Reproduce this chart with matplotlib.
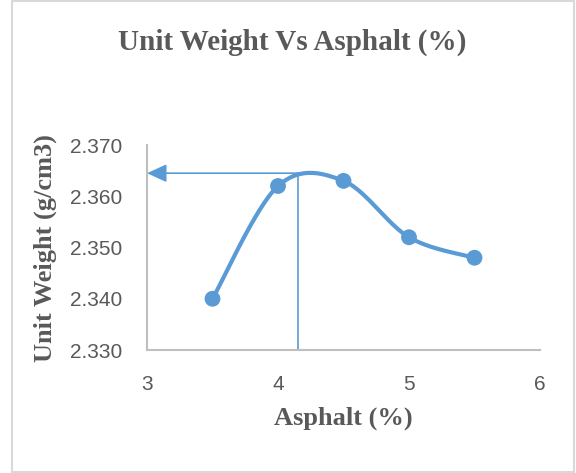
import numpy as np
import matplotlib
matplotlib.use("Agg")
import matplotlib.pyplot as plt
from matplotlib.patches import Rectangle

asphalt = [3.5, 4.0, 4.5, 5.0, 5.5]
unit_weight = [2.340, 2.362, 2.363, 2.352, 2.348]
optimum_asphalt = 4.15
optimum_weight = 2.3645
x_ticks = [3, 4, 5, 6]
y_ticks = [2.330, 2.340, 2.350, 2.360, 2.370]

blue = "#5b9bd5"
grey_text = "#595959"


def smooth_curve(xs, ys, n=40):
    """Spreadsheet-style smoothed line: cubic Bezier segments with
    Catmull-Rom control points."""
    xs = np.asarray(xs, float)
    ys = np.asarray(ys, float)
    px = np.concatenate([[xs[0]], xs, [xs[-1]]])
    py = np.concatenate([[ys[0]], ys, [ys[-1]]])
    out_x, out_y = [], []
    t = np.linspace(0, 1, n)
    for i in range(1, len(px) - 2):
        p0 = np.array([px[i], py[i]])
        p3 = np.array([px[i + 1], py[i + 1]])
        c1 = p0 + (np.array([px[i + 1], py[i + 1]]) - np.array([px[i - 1], py[i - 1]])) / 6
        c2 = p3 - (np.array([px[i + 2], py[i + 2]]) - np.array([px[i], py[i]])) / 6
        b = ((1 - t) ** 3)[:, None] * p0 + (3 * (1 - t) ** 2 * t)[:, None] * c1 \
            + (3 * (1 - t) * t ** 2)[:, None] * c2 + (t ** 3)[:, None] * p3
        out_x.extend(b[:, 0])
        out_y.extend(b[:, 1])
    return np.array(out_x), np.array(out_y)


fig = plt.figure(figsize=(5.76, 4.73), dpi=100)
W, H = 576, 473

# chart border
fig.patches.append(Rectangle((11.5 / W, 1 - 471.5 / H), 562 / W, 470 / H,
                             transform=fig.transFigure, fill=False,
                             edgecolor="#d9d9d9", linewidth=1.5))

ax = fig.add_axes([147 / W, 1 - 350 / H, (540 - 147) / W, (350 - 145) / H])
ax.set_xlim(3, 6)
ax.set_ylim(2.330, 2.370)
ax.set_xticks(x_ticks)
ax.set_yticks(y_ticks)
ax.set_xticklabels([str(v) for v in x_ticks])
ax.set_yticklabels([f"{v:.3f}" for v in y_ticks])

for side in ["top", "right"]:
    ax.spines[side].set_visible(False)
for side in ["left", "bottom"]:
    ax.spines[side].set_color("#bfbfbf")
    ax.spines[side].set_linewidth(1.5)
ax.tick_params(length=0, labelsize=15, labelcolor=grey_text)
ax.tick_params(axis="y", pad=18)
ax.tick_params(axis="x", pad=18)
for lbl in ax.get_xticklabels() + ax.get_yticklabels():
    lbl.set_fontfamily("Liberation Sans")

# guide lines for the optimum value
ax.plot([optimum_asphalt, optimum_asphalt], [2.330, optimum_weight],
        color=blue, linewidth=1.2, zorder=2)
ax.annotate("", xy=(3.0, optimum_weight), xytext=(optimum_asphalt, optimum_weight),
            arrowprops=dict(arrowstyle="-|>,head_length=1.2,head_width=0.55",
                            color=blue, linewidth=1.2, shrinkA=0, shrinkB=0),
            zorder=2)

sx, sy = smooth_curve(asphalt, unit_weight)
ax.plot(sx, sy, color=blue, linewidth=3, zorder=3, solid_capstyle="round")
ax.scatter(asphalt, unit_weight, s=130, color=blue, zorder=4, edgecolors="none")

serif = "Liberation Serif"
fig.text(0.5 * (11.5 + 573.5) / W, 1 - 42 / H, "Unit Weight Vs Asphalt (%)",
         ha="center", va="center", fontsize=21, fontweight="bold",
         color=grey_text, family=serif)
fig.text(343 / W, 1 - 418 / H, "Asphalt (%)", ha="center", va="center",
         fontsize=19, fontweight="bold", color=grey_text, family=serif)
fig.text(45 / W, 1 - 248 / H, "Unit Weight (g/cm3)", ha="center", va="center",
         rotation=90, fontsize=19, fontweight="bold", color=grey_text,
         family=serif)

fig.savefig("out.png", dpi=100)
